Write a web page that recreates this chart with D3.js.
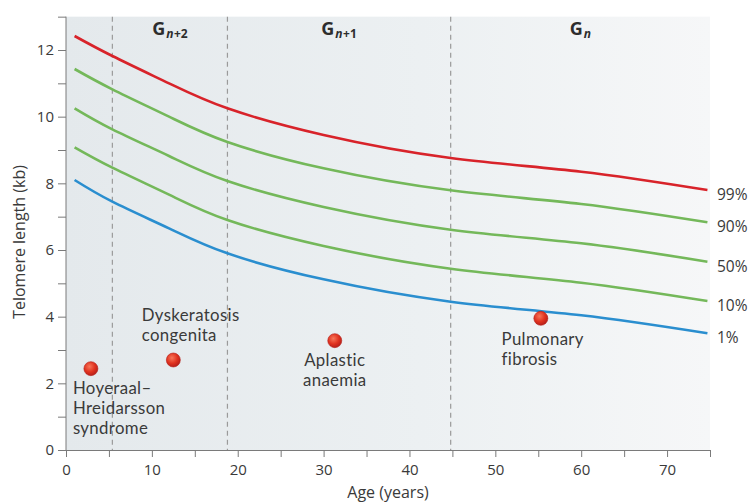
<!DOCTYPE html>
<html>
<head>
<meta charset="utf-8">
<script src="https://cdn.jsdelivr.net/npm/d3@7"></script>
<style>
  html, body { margin: 0; padding: 0; background: #fff; }
  svg { display: block; font-family: "Open Sans", "Noto Sans", sans-serif; }
</style>
</head>
<body>
<svg id="chart" width="750" height="503"></svg>
<script>
// ---- data ----
const ages      = [1, 5.4, 12, 18.8, 30, 44.8, 60, 74.7];
const pct99     = [12.42, 11.82, 11.00, 10.25, 9.45, 8.76, 8.35, 7.80];
const pct90     = [11.43, 10.82, 10.00, 9.24, 8.45, 7.79, 7.38, 6.83];
const pct50     = [10.25, 9.62, 8.82, 8.07, 7.29, 6.61, 6.20, 5.65];
const pct10     = [9.08, 8.47, 7.66, 6.90, 6.12, 5.44, 5.02, 4.47];
const pct1      = [8.10, 7.45, 6.65, 5.90, 5.12, 4.45, 4.04, 3.50];
const seriesNames = ["99%", "90%", "50%", "10%", "1%"];

const diseaseNames = [["Hoyeraal–", "Hreidarsson", "syndrome"], ["Dyskeratosis", "congenita"], ["Aplastic", "anaemia"], ["Pulmonary", "fibrosis"]];
const diseaseAge = [2.9, 12.5, 31.3, 55.3];
const diseaseTL  = [2.44, 2.70, 3.28, 3.95];

const generationBounds = [5.4, 18.8, 44.8];
const generationLabels = [["G", "n", "+2"], ["G", "n", "+1"], ["G", "n", ""]];

const xTicks = [0, 5, 10, 15, 20, 25, 30, 35, 40, 45, 50, 55, 60, 65, 70, 75];
const yTicks = [0, 1, 2, 3, 4, 5, 6, 7, 8, 9, 10, 11, 12, 13];

// ---- layout ----
const svg = d3.select("#chart");
const x = d3.scaleLinear().domain([0, 75]).range([66, 710]);
const y = d3.scaleLinear().domain([0, 12]).range([450, 50]);
const yTop = y(13);

const defs = svg.append("defs");
const bg = defs.append("linearGradient").attr("id", "bg").attr("x1", "0").attr("x2", "1").attr("y1", "0").attr("y2", "0");
bg.append("stop").attr("offset", "0").attr("stop-color", "#e4e9ec");
bg.append("stop").attr("offset", "0.55").attr("stop-color", "#ecf0f2");
bg.append("stop").attr("offset", "1").attr("stop-color", "#f6f7f8");

const dot = defs.append("radialGradient").attr("id", "dot").attr("cx", "0.4").attr("cy", "0.35").attr("r", "0.65");
dot.append("stop").attr("offset", "0").attr("stop-color", "#f7765a");
dot.append("stop").attr("offset", "0.6").attr("stop-color", "#e0321f");
dot.append("stop").attr("offset", "1").attr("stop-color", "#b8201a");

svg.append("rect")
  .attr("x", x(0)).attr("y", yTop)
  .attr("width", x(75) - x(0)).attr("height", y(0) - yTop)
  .attr("fill", "url(#bg)");

// generation dividers
svg.selectAll(".gen").data(generationBounds).join("line")
  .attr("x1", d => x(d)).attr("x2", d => x(d))
  .attr("y1", yTop).attr("y2", y(0))
  .attr("stroke", "#9a9a9a").attr("stroke-width", 1.2)
  .attr("stroke-dasharray", "5,4");

const regions = [[generationBounds[0], generationBounds[1]], [generationBounds[1], generationBounds[2]], [generationBounds[2], 75]];
generationLabels.forEach((g, i) => {
  const cx = (x(regions[i][0]) + x(regions[i][1])) / 2;
  const t = svg.append("text")
    .attr("x", cx).attr("y", 35)
    .attr("text-anchor", "middle")
    .attr("fill", "#2d2d2d");
  t.append("tspan").attr("font-size", 18).attr("font-weight", 700).text(g[0]);
  t.append("tspan").attr("font-size", 12).attr("font-weight", 700).attr("font-style", "italic").attr("dy", 3).attr("dx", 1).text(g[1]);
  if (g[2]) t.append("tspan").attr("font-size", 12).attr("font-weight", 700).attr("dx", 0.5).text(g[2]);
});

// axes
const yAxis = d3.axisLeft(y).tickValues(yTicks).tickSize(8).tickSizeOuter(0)
  .tickFormat(d => d % 2 === 0 ? d : "");
const gy = svg.append("g").attr("transform", `translate(${x(0)},0)`).call(yAxis);
gy.select(".domain").attr("stroke", "#7a7a7a").attr("d", `M0,${yTop}V${y(0)}`);
gy.selectAll(".tick line").attr("stroke", "#7a7a7a");
gy.selectAll(".tick text").attr("font-size", 15).attr("fill", "#3a3a3a").attr("x", -12).attr("font-family", "Open Sans");

const xAxis = d3.axisBottom(x).tickValues(xTicks).tickSize(7).tickSizeOuter(0)
  .tickFormat(d => d % 10 === 0 ? d : "");
const gx = svg.append("g").attr("transform", `translate(0,${y(0)})`).call(xAxis);
gx.select(".domain").attr("stroke", "#7a7a7a");
gx.selectAll(".tick line").attr("stroke", "#7a7a7a");
gx.selectAll(".tick text").attr("font-size", 15).attr("fill", "#3a3a3a").attr("y", 14).attr("font-family", "Open Sans");

svg.append("text")
  .attr("x", (x(0) + x(75)) / 2).attr("y", 498)
  .attr("text-anchor", "middle").attr("font-size", 16).attr("fill", "#3a3a3a")
  .text("Age (years)");
svg.append("text")
  .attr("transform", "translate(25,242) rotate(-90)")
  .attr("text-anchor", "middle").attr("font-size", 16).attr("fill", "#3a3a3a")
  .text("Telomere length (kb)");

// percentile curves
const allSeries = [pct99, pct90, pct50, pct10, pct1];
const colors = ["#d8232a", "#74b85a", "#74b85a", "#74b85a", "#2a8ecf"];
const line = d3.line().x((d, i) => x(ages[i])).y(d => y(d)).curve(d3.curveNatural);
allSeries.forEach((s, k) => {
  svg.append("path").datum(s)
    .attr("d", line)
    .attr("fill", "none").attr("stroke", colors[k]).attr("stroke-width", 2.6);
  svg.append("text")
    .attr("x", 717).attr("y", y(s[s.length - 1]) + 10)
    .attr("font-size", 15.5).attr("fill", "#3a3a3a")
    .text(seriesNames[k]);
});

// disease points
const labelLayout = [
  { anchor: "start", dx: -18, dy: 25 },
  { anchor: "start", dx: -31.6, dy: -39.3 },
  { anchor: "middle", dx: 0, dy: 25.3 },
  { anchor: "start", dx: -39.3, dy: 26.7 }
];
diseaseAge.forEach((a, i) => {
  const cx = x(a), cy = y(diseaseTL[i]);
  svg.append("circle").attr("cx", cx).attr("cy", cy).attr("r", 7)
    .attr("fill", "url(#dot)").attr("stroke", "#b31d17").attr("stroke-width", 0.6);
  const L = labelLayout[i];
  diseaseNames[i].forEach((ln, j) => {
    svg.append("text")
      .attr("text-anchor", L.anchor)
      .attr("font-family", "Lato, 'Open Sans', sans-serif")
      .attr("font-size", 16.8).attr("letter-spacing", 0.35).attr("fill", "#3a3a3a")
      .attr("x", cx + L.dx).attr("y", cy + L.dy + j * 20.3).text(ln);
  });
});
</script>
</body>
</html>
